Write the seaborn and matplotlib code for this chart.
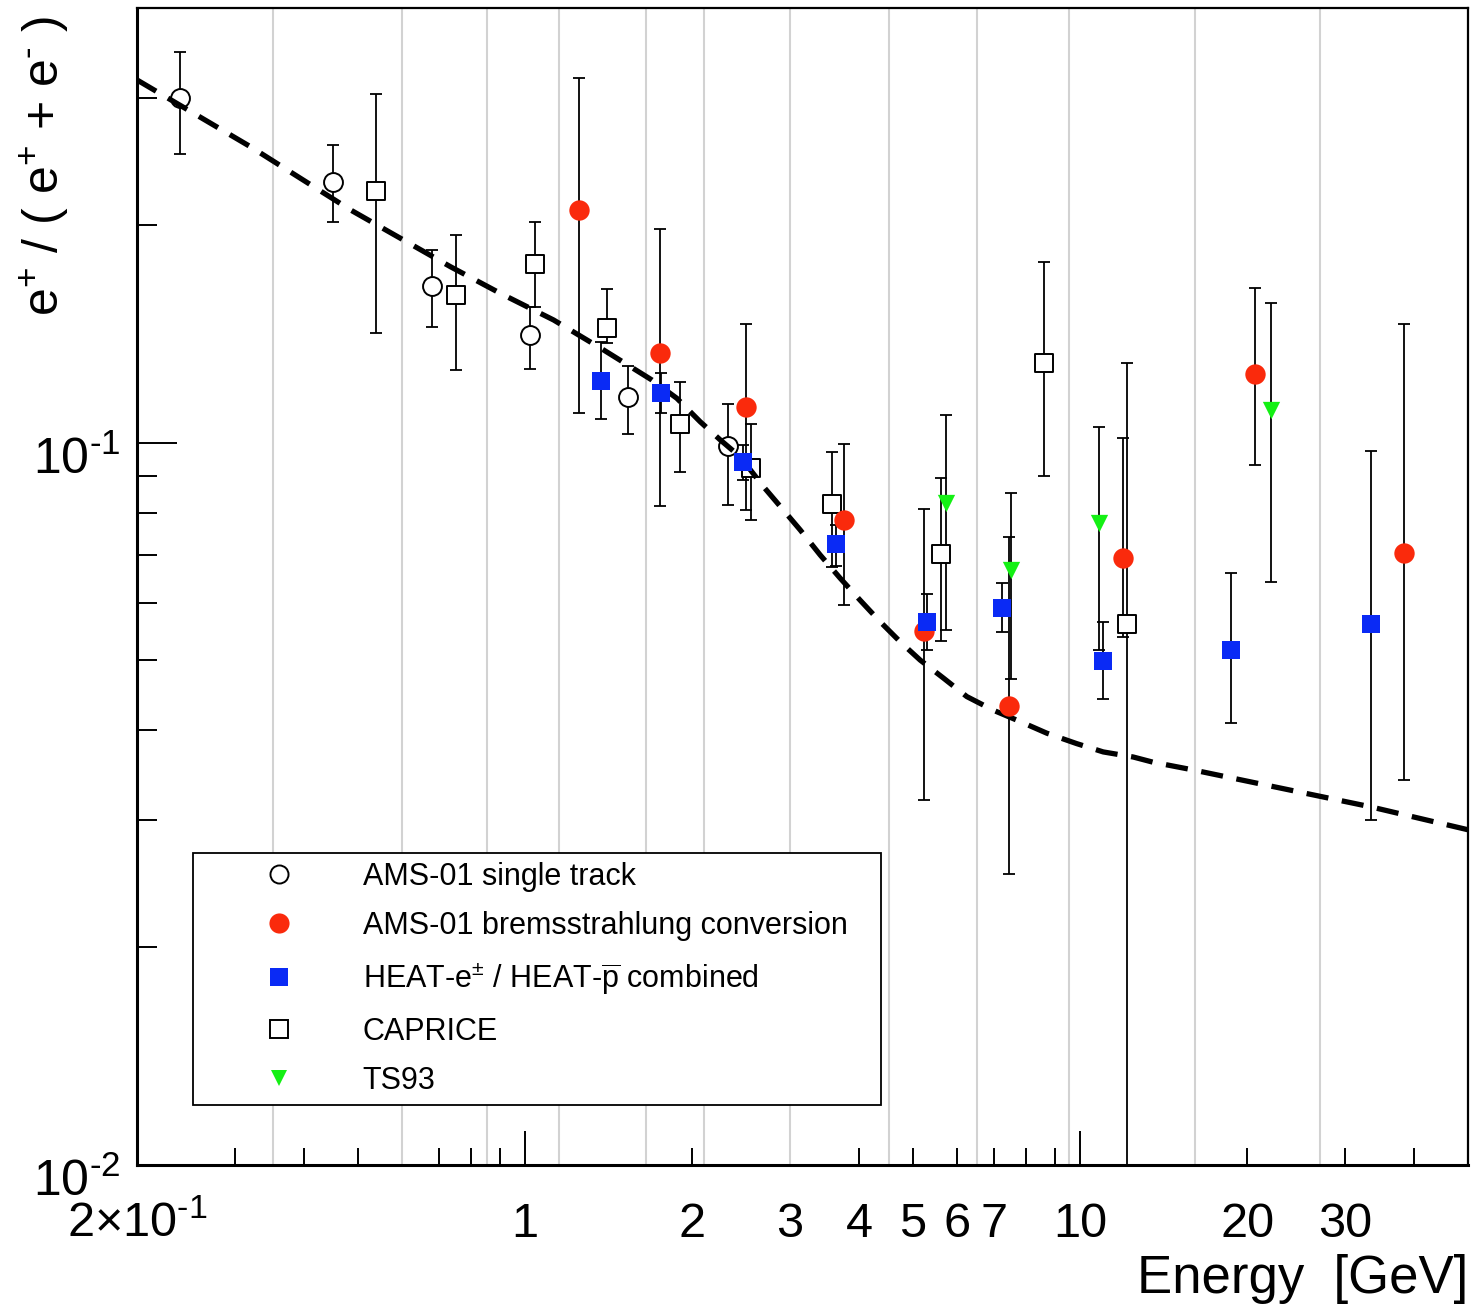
import numpy as np
import matplotlib
matplotlib.use("Agg")
import matplotlib.pyplot as plt
import matplotlib.transforms as mtransforms
import seaborn as sns
from matplotlib.ticker import FixedLocator, NullFormatter
from matplotlib.lines import Line2D

# ---------------- data ----------------
# AMS-01 single track
st_E = [0.239, 0.451, 0.680, 1.023, 1.533, 2.317]
st_R = [0.300, 0.230, 0.165, 0.141, 0.1158, 0.099]
st_lo = [0.251, 0.202, 0.1445, 0.1265, 0.1029, 0.082]
st_hi = [0.348, 0.258, 0.185, 0.154, 0.1277, 0.113]

# AMS-01 bremsstrahlung conversion
br_E = [1.253, 1.753, 2.504, 3.758, 5.244, 7.46, 11.94, 20.69, 38.4]
br_R = [0.210, 0.133, 0.112, 0.0781, 0.0549, 0.0432, 0.0692, 0.1244, 0.0703]
br_lo = [0.110, 0.0817, 0.0807, 0.0595, 0.032, 0.0253, 0.0538, 0.0931, 0.0341]
br_hi = [0.320, 0.1975, 0.146, 0.0996, 0.081, 0.0741, 0.1014, 0.164, 0.146]

# HEAT combined
heat_E = [1.371, 1.760, 2.470, 3.636, 5.297, 7.228, 10.99, 18.69, 33.44]
heat_R = [0.1219, 0.1173, 0.0939, 0.0724, 0.0565, 0.059, 0.0498, 0.0517, 0.0561]
heat_lo = [0.1077, 0.1098, 0.0888, 0.0675, 0.0517, 0.0547, 0.0441, 0.0409, 0.030]
heat_hi = [0.138, 0.125, 0.0993, 0.0769, 0.0617, 0.064, 0.0564, 0.0661, 0.0975]

# CAPRICE
cap_E = [0.540, 0.752, 1.041, 1.403, 1.905, 2.554, 3.573, 5.627, 8.61, 12.14]
cap_R = [0.223, 0.160, 0.177, 0.144, 0.106, 0.0922, 0.0822, 0.0701, 0.129, 0.0561]
cap_lo = [0.142, 0.126, 0.154, 0.1375, 0.091, 0.0781, 0.0673, 0.0531, 0.090, 0.001]
cap_hi = [0.304, 0.194, 0.202, 0.163, 0.1213, 0.1061, 0.0971, 0.0893, 0.178, 0.129]

# TS93
ts_E = [5.731, 7.513, 10.83, 22.08]
ts_R = [0.0824, 0.0666, 0.0775, 0.111]
ts_lo = [0.0551, 0.0471, 0.0516, 0.0642]
ts_hi = [0.1093, 0.0851, 0.105, 0.156]

# model curve (dashed)
model_E = [0.2, 0.3202, 0.4849, 0.7339, 0.9031, 1.126, 1.386, 1.694, 1.878, 2.069,
           2.248, 2.442, 2.690, 2.884, 3.133, 3.403, 3.698, 4.017, 4.364, 4.742,
           5.151, 5.675, 6.252, 6.982, 7.798, 8.71, 9.864, 11.01, 12.47, 13.53,
           16.04, 33.44, 50.0]
model_R = [0.318, 0.2570, 0.2101, 0.1753, 0.1610, 0.1479, 0.1344, 0.1221, 0.1152, 0.1069,
           0.1009, 0.0956, 0.0869, 0.0816, 0.0757, 0.0699, 0.0649, 0.0605, 0.0565, 0.0530,
           0.0500, 0.0472, 0.0445, 0.0426, 0.0411, 0.0396, 0.0383, 0.0373, 0.0367, 0.0361,
           0.0352, 0.0313, 0.0291]

# light vertical lines (bin edges)
bin_edges = [0.351, 0.601, 0.855, 1.151, 1.652, 2.104, 3.005, 4.519, 6.524, 9.544, 16.09, 27.1]

# axis ticks and labels
x_label_pos = [0.2, 1, 2, 3, 4, 5, 6, 7, 10, 20, 30]
x_label_txt = [r"$2{\times}10^{\text{-}1}$", "1", "2", "3", "4", "5", "6", "7", "10", "20", "30"]
x_major_marks = [1, 10]
x_minor_marks = [0.3, 0.4, 0.5, 0.7, 0.8, 0.9, 2, 4, 5, 6, 7, 8, 9, 20, 30, 40]
y_major = [0.01, 0.1]
y_major_txt = [r"$10^{\text{-}2}$", r"$10^{\text{-}1}$"]
y_minor = [0.02, 0.03, 0.04, 0.05, 0.06, 0.07, 0.08, 0.09, 0.2, 0.3]

legend_labels = ["AMS-01 single track",
                 "AMS-01 bremsstrahlung conversion",
                 r"HEAT-e$^{\pm}$ / HEAT-$\overline{\mathrm{p}}$ combined",
                 "CAPRICE",
                 "TS93"]

# ---------------- style ----------------
sns.set_style("white")
plt.rcParams["font.family"] = ["Liberation Sans", "DejaVu Sans"]
plt.rcParams["mathtext.fontset"] = "custom"
plt.rcParams["mathtext.rm"] = "Liberation Sans"
plt.rcParams["mathtext.it"] = "Liberation Sans:italic"
plt.rcParams["mathtext.bf"] = "Liberation Sans:bold"
for k in ["text.color", "axes.labelcolor", "xtick.color", "ytick.color", "axes.edgecolor"]:
    plt.rcParams[k] = "black"

RED = "#fa2a0c"
BLUE = "#0a2af5"
GREEN = "#14f014"

W, H = 1477, 1307
fig = plt.figure(figsize=(W / 100, H / 100), dpi=100)
fig.patch.set_facecolor("white")
ax = fig.add_axes([137 / W, 1 - 1164.7 / H, (1468 - 137) / W, (1164.7 - 8) / H])
ax.set_xscale("log")
ax.set_yscale("log")
ax.set_xlim(0.2, 50)
ax.set_ylim(0.01, 0.4)

for e in bin_edges:
    ax.axvline(e, color="#d2d2d2", lw=1.5, zorder=1)

def errbars(E, R, lo, hi):
    R = np.asarray(R); lo = np.asarray(lo); hi = np.asarray(hi)
    ax.errorbar(E, R, yerr=[R - lo, hi - R], fmt="none", ecolor="black",
                elinewidth=1.3, capsize=4.2, capthick=1.3, zorder=3)

errbars(st_E, st_R, st_lo, st_hi)
errbars(cap_E, cap_R, cap_lo, cap_hi)
errbars(br_E, br_R, br_lo, br_hi)
errbars(heat_E, heat_R, heat_lo, heat_hi)
errbars(ts_E, ts_R, ts_lo, ts_hi)

# open markers
sns.scatterplot(x=st_E, y=st_R, marker="o", s=185, color="white",
                edgecolor="black", linewidth=1.4, ax=ax, zorder=4)
sns.scatterplot(x=cap_E, y=cap_R, marker="s", s=175, color="white",
                edgecolor="black", linewidth=1.4, ax=ax, zorder=4)

# model curve
sns.lineplot(x=model_E, y=model_R, color="black", lw=3.8,
             linestyle=(0, (4.2, 2.6)), ax=ax, zorder=5, estimator=None,
             sort=False)
for ln in ax.lines:
    ln.set_dash_capstyle("butt")

# filled markers
sns.scatterplot(x=br_E, y=br_R, marker="o", s=215, color=RED,
                linewidth=0, ax=ax, zorder=6)
sns.scatterplot(x=heat_E, y=heat_R, marker="s", s=160, color=BLUE,
                linewidth=0, ax=ax, zorder=6)
sns.scatterplot(x=ts_E, y=ts_R, marker="v", s=155, color=GREEN,
                linewidth=0, ax=ax, zorder=6)

# ---------------- axes ----------------
for side in ["left", "bottom"]:
    ax.spines[side].set_linewidth(2.2)
for side in ["top", "right"]:
    ax.spines[side].set_linewidth(1.6)
for sp in ax.spines.values():
    sp.set_color("black")
    sp.set_zorder(10)

ax.xaxis.set_major_locator(FixedLocator(x_major_marks))
ax.xaxis.set_major_formatter(NullFormatter())
ax.xaxis.set_minor_locator(FixedLocator(x_minor_marks))
ax.xaxis.set_minor_formatter(NullFormatter())
ax.tick_params(axis="x", which="major", direction="in", length=24.5, width=1.4,
               bottom=True, top=False)
ax.tick_params(axis="x", which="minor", direction="in", length=12.2, width=1.4,
               bottom=True, top=False)

ax.yaxis.set_major_locator(FixedLocator(y_major))
ax.yaxis.set_major_formatter(NullFormatter())
ax.yaxis.set_minor_locator(FixedLocator(y_minor))
ax.yaxis.set_minor_formatter(NullFormatter())
ax.tick_params(axis="y", which="major", direction="in", length=29, width=1.4,
               left=True, right=False)
ax.tick_params(axis="y", which="minor", direction="in", length=14.4, width=1.4,
               left=True, right=False)

# x tick labels (baseline below the axis)
xt = ax.get_xaxis_transform()
for pos, txt in zip(x_label_pos, x_label_txt):
    ax.text(pos, -0.0625, txt, transform=xt, ha="center", va="baseline",
            fontsize=35, clip_on=False)

# y tick labels
yt = mtransforms.offset_copy(ax.get_yaxis_transform(), fig=fig, x=-17, y=-31,
                             units="dots")
for pos, txt in zip(y_major, y_major_txt):
    ax.text(0, pos, txt, transform=yt, ha="right", va="baseline",
            fontsize=36, clip_on=False)

fig.text(1468 / W, 1 - 1293 / H, "Energy  [GeV]", ha="right", va="baseline",
         fontsize=38)
fig.text(44 / W, 1 - 16 / H, r"e$^{+}$ / ( e$^{+}$ + e$^{\text{-}}$ )", rotation=90,
         ha="center", va="top", fontsize=36)

# ---------------- legend ----------------
handles = [
    Line2D([], [], marker="o", ls="none", mfc="white", mec="black", mew=1.4, ms=13),
    Line2D([], [], marker="o", ls="none", mfc=RED, mec=RED, mew=0, ms=14.5),
    Line2D([], [], marker="s", ls="none", mfc=BLUE, mec=BLUE, mew=0, ms=12.5),
    Line2D([], [], marker="s", ls="none", mfc="white", mec="black", mew=1.4, ms=12.5),
    Line2D([], [], marker="v", ls="none", mfc=GREEN, mec=GREEN, mew=0, ms=12),
]
leg = ax.legend(handles, legend_labels, loc="lower left",
                bbox_to_anchor=((193 - 137) / 1331, (1164.7 - 1105) / 1156.7,
                                (881 - 193) / 1331, 0.22),
                mode="expand", fontsize=22, frameon=True, fancybox=False,
                edgecolor="black", framealpha=1, borderpad=0.3,
                handlelength=5.0, handletextpad=0.25, labelspacing=0.63,
                borderaxespad=0)
leg.get_frame().set_linewidth(1.3)
leg.set_zorder(8)

fig.savefig("out.png", dpi=100, facecolor="white")
